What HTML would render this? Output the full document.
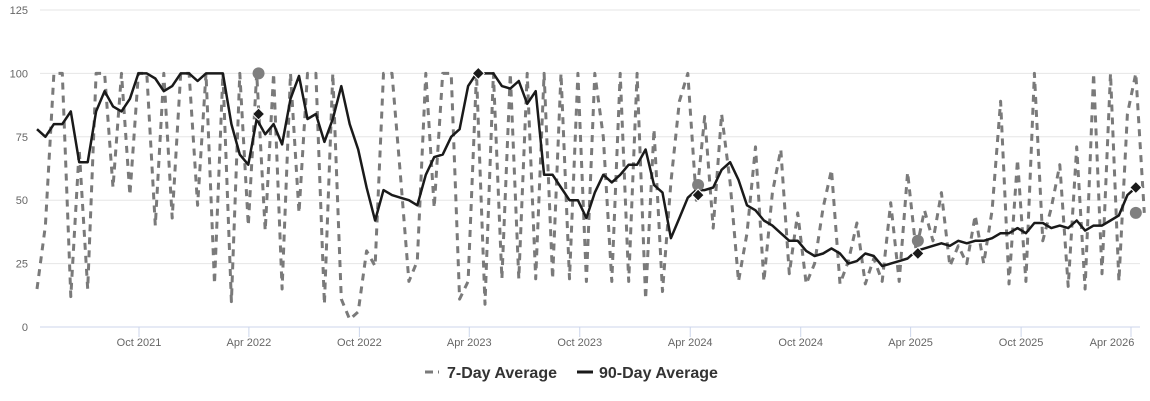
<!DOCTYPE html>
<html><head><meta charset="utf-8"><style>
html,body{margin:0;padding:0;background:#fff;width:1150px;height:401px;overflow:hidden}
svg{display:block;font-family:"Liberation Sans",sans-serif}
</style></head><body>
<svg id="chart" width="1150" height="401">
<g id="grid"></g>
<g id="axes"></g>
<g id="series"></g>
<g id="legend">
<g>
<line x1="425" y1="372" x2="439" y2="372" stroke="#7a7a7a" stroke-width="3" stroke-dasharray="8,5"/>
<text x="447" y="378" font-size="16" font-weight="bold" fill="#333">7-Day Average</text></g>
<g>
<line x1="577" y1="372" x2="593" y2="372" stroke="#1a1a1a" stroke-width="3"/>
<text x="599" y="378" font-size="16" font-weight="bold" fill="#333">90-Day Average</text></g>
</g>
</svg>
<script>
const startDate="2021-04-15";
const stepDays=14;
const yTicks=[0,25,50,75,100,125];
const xTickDates=["2021-10-01","2022-04-01","2022-10-01","2023-04-01","2023-10-01","2024-04-01","2024-10-01","2025-04-01","2025-10-01","2026-04-01"];
const xTickLabels=["Oct 2021","Apr 2022","Oct 2022","Apr 2023","Oct 2023","Apr 2024","Oct 2024","Apr 2025","Oct 2025","Apr 2026"];
const avg7=[15,40,100,100,12,70,15,100,100,55,100,52,100,100,40,100,43,100,100,48,100,17,100,10,100,40,100,38,100,15,100,45,100,100,9,100,11,3,6,30,24,100,100,60,18,26,100,47,100,100,11,18,100,9,100,19,100,19,100,19,100,19,100,19,100,18,100,75,18,100,18,100,11,78,14,57,89,100,50,83,39,84,57,18,37,71,18,53,70,21,45,17,25,47,62,17,26,41,17,27,18,49,18,61,30,46,34,53,24,32,25,44,25,46,89,17,66,18,100,34,47,64,16,71,15,100,21,100,18,84,100,45];
const avg90=[78,75,80,80,85,65,65,85,93,87,85,90,100,100,98,93,95,100,100,97,100,100,100,80,68,64,82,76,80,72,90,99,82,84,73,82,95,80,70,55,42,54,52,51,50,48,60,67,68,75,78,95,100,100,100,95,94,97,88,93,60,60,55,50,50,43,53,60,57,60,64,64,70,56,53,35,43,51,54,54,55,62,65,58,48,46,42,40,37,34,34,30,28,29,31,29,25,26,29,28,24,25,26,27,30,31,32,33,32,34,33,34,34,35,37,37,39,37,41,41,39,40,39,42,38,40,40,42,44,52,55];
const markerDates=["2022-04-17","2023-04-16","2024-04-14","2025-04-13","2026-04-09"];
const marker7=[100,null,56,34,45];
const marker90=[84,100,52,29,55];

const NS="http://www.w3.org/2000/svg";
const L=40,R=1140,Y0=327,PXU=2.536;
const anchor=Date.parse("2021-10-01"),pxDay=992/1643;
function xd(s){return 139+(Date.parse(s)-anchor)/864e5*pxDay;}
function xi(i){return xd(startDate)+i*stepDays*pxDay;}
function y(v){return Y0-v*PXU;}
function mk(tag,at,parent){const e=document.createElementNS(NS,tag);for(const k in at)e.setAttribute(k,at[k]);parent.appendChild(e);return e;}
const grid=document.getElementById('grid'),axes=document.getElementById('axes'),series=document.getElementById('series');
yTicks.forEach(t=>{
 const g=mk('line',{x1:L,x2:R,y1:y(t),y2:y(t),stroke:t===0?'#ccd6eb':'#e6e6e6','stroke-width':1},grid);
 
 
 const tx=mk('text',{x:28,y:y(t)+4,'font-size':11,fill:'#666','text-anchor':'end'},axes);
 tx.textContent=t;
 
 
});
xTickDates.forEach((d,i)=>{
 const x=xd(d);
 const tk=mk('line',{x1:x,x2:x,y1:Y0,y2:Y0+10,stroke:'#ccd6eb'},axes);
 
 
 const lx=i===xTickLabels.length-1?Math.min(x,1112):x;
 const tx=mk('text',{x:lx,y:346,'font-size':11,fill:'#666','text-anchor':'middle'},axes);
 tx.textContent=xTickLabels[i];
 
 
});
const p7=mk('path',{d:avg7.map((v,i)=>(i?'L':'M')+xi(i).toFixed(1)+','+y(v).toFixed(1)).join(''),fill:'none',stroke:'#7a7a7a','stroke-width':3,'stroke-dasharray':'7,6','stroke-linejoin':'round'},series);


const p90=mk('path',{d:avg90.map((v,i)=>(i?'L':'M')+xi(i).toFixed(1)+','+y(v).toFixed(1)).join(''),fill:'none',stroke:'#1a1a1a','stroke-width':2.5,'stroke-linejoin':'round'},series);


markerDates.forEach((d,i)=>{
 const x=xd(d);
 if(marker7[i]!==null){
  const c=mk('circle',{cx:x,cy:y(marker7[i]),r:6,fill:'#7f7f7f'},series);
  
  
 }
 const yy=y(marker90[i]);
 const p=mk('path',{d:`M${x},${yy-6}L${x+6},${yy}L${x},${yy+6}L${x-6},${yy}Z`,fill:'#1a1a1a',stroke:'#fff','stroke-width':1},series);
 
 
});
</script>
</body></html>
